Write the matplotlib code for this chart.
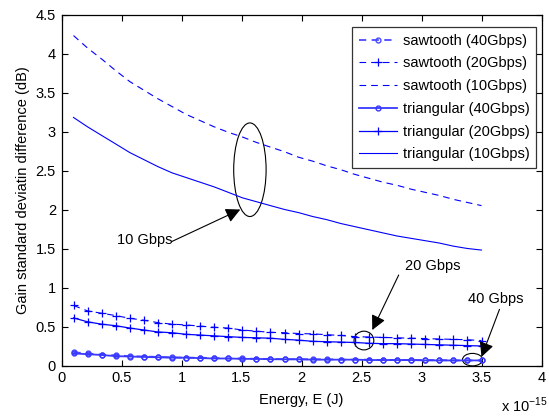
import matplotlib
matplotlib.use('Agg')
import matplotlib.pyplot as plt
from matplotlib.patches import Ellipse

plt.rcParams['font.family'] = ['Liberation Sans', 'DejaVu Sans']

# energy axis (x 1e-15 J)
energy = [0.100, 0.217, 0.334, 0.452, 0.569, 0.686, 0.803, 0.921, 1.038, 1.155,
          1.272, 1.390, 1.507, 1.624, 1.741, 1.859, 1.976, 2.093, 2.210, 2.328,
          2.445, 2.562, 2.679, 2.797, 2.914, 3.031, 3.148, 3.266, 3.383, 3.500]

saw_40 = [0.17, 0.155, 0.14, 0.13, 0.12, 0.115, 0.11, 0.105, 0.10, 0.10,
          0.095, 0.09, 0.09, 0.085, 0.085, 0.08, 0.08, 0.08, 0.08, 0.075,
          0.075, 0.075, 0.07, 0.07, 0.07, 0.07, 0.07, 0.065, 0.065, 0.065]
saw_20 = [0.77, 0.70, 0.67, 0.64, 0.605, 0.58, 0.55, 0.53, 0.52, 0.505,
          0.49, 0.48, 0.455, 0.44, 0.425, 0.42, 0.41, 0.405, 0.395, 0.385,
          0.37, 0.365, 0.36, 0.355, 0.35, 0.345, 0.34, 0.335, 0.33, 0.32]
saw_10 = [4.23, 4.07, 3.93, 3.78, 3.64, 3.53, 3.42, 3.32, 3.22, 3.14,
          3.06, 2.99, 2.93, 2.86, 2.80, 2.74, 2.67, 2.62, 2.56, 2.51,
          2.45, 2.40, 2.35, 2.31, 2.26, 2.22, 2.18, 2.13, 2.09, 2.05]
tri_40 = [0.155, 0.145, 0.135, 0.12, 0.115, 0.11, 0.105, 0.10, 0.10, 0.095,
          0.09, 0.09, 0.085, 0.085, 0.08, 0.08, 0.08, 0.075, 0.075, 0.075,
          0.075, 0.07, 0.07, 0.07, 0.07, 0.065, 0.065, 0.065, 0.065, 0.065]
tri_20 = [0.61, 0.56, 0.53, 0.51, 0.48, 0.455, 0.43, 0.42, 0.40, 0.39,
          0.38, 0.37, 0.36, 0.355, 0.35, 0.335, 0.325, 0.31, 0.305, 0.30,
          0.295, 0.285, 0.28, 0.28, 0.275, 0.27, 0.265, 0.26, 0.255, 0.25]
tri_10 = [3.18, 3.06, 2.95, 2.84, 2.73, 2.64, 2.55, 2.47, 2.41, 2.35,
          2.29, 2.22, 2.15, 2.10, 2.05, 2.00, 1.96, 1.91, 1.87, 1.82,
          1.78, 1.74, 1.70, 1.66, 1.63, 1.60, 1.57, 1.53, 1.50, 1.48]

fig = plt.figure(figsize=(5.49, 4.18), dpi=100)
ax = fig.add_axes([61.5 / 549, 1 - 365.5 / 418, 480 / 549, 351 / 418])

dash = (6, 4.5)
ax.plot(energy, saw_40, color='#4a4aff', lw=1.3, dashes=(4, 3), marker='o', ms=3.5,
        mfc='none', mew=1, label='sawtooth (40Gbps)')
ax.plot(energy, saw_20, color='blue', lw=0.8, dashes=dash, marker='+', ms=6,
        mew=0.9, label='sawtooth (20Gbps)')
ax.plot(energy, saw_10, color='blue', lw=0.8, dashes=dash, label='sawtooth (10Gbps)')
ax.plot(energy, tri_40, color='#3838ff', lw=1.3, marker='o', ms=3.5,
        mfc='none', mew=1, label='triangular (40Gbps)')
ax.plot(energy, tri_20, color='blue', lw=0.9, marker='+', ms=6, mew=0.9,
        label='triangular (20Gbps)')
ax.plot(energy, tri_10, color='blue', lw=0.8, label='triangular (10Gbps)')

ax.set_xlim(0, 4)
ax.set_ylim(0, 4.5)
ax.set_xticks([0, 0.5, 1, 1.5, 2, 2.5, 3, 3.5, 4])
ax.set_xticklabels(['0', '0.5', '1', '1.5', '2', '2.5', '3', '3.5', '4'])
ax.set_yticks([0, 0.5, 1, 1.5, 2, 2.5, 3, 3.5, 4, 4.5])
ax.set_yticklabels(['0', '0.5', '1', '1.5', '2', '2.5', '3', '3.5', '4', '4.5'])
ax.tick_params(direction='in', top=True, right=True, length=4, labelsize=10.5, pad=4)
for s in ax.spines.values():
    s.set_linewidth(0.9)

ax.set_xlabel('Energy, E (J)', fontsize=10.5, labelpad=6)
ax.set_ylabel('Gain standard deviatin difference (dB)', fontsize=10.5, labelpad=4)
fig.text(501 / 549, 1 - 412 / 418, r'x 10$^{\mathregular{-15}}$', fontsize=10.5,
         ha='left', va='baseline')

leg = ax.legend(loc='upper right', fontsize=10.5, frameon=True, fancybox=False,
                edgecolor='black', handlelength=2.6, labelspacing=0.6,
                borderpad=0.45, handletextpad=0.4, borderaxespad=0,
                bbox_to_anchor=(0.9885, 0.964))
leg.get_frame().set_linewidth(0.9)

# annotations
ax.add_patch(Ellipse((1.57, 2.51), 0.27, 1.2, fill=False, ec='black', lw=0.8))
ax.add_patch(Ellipse((2.52, 0.32), 0.165, 0.24, fill=False, ec='black', lw=0.8))
ax.add_patch(Ellipse((3.425, 0.075), 0.167, 0.16, fill=False, ec='black', lw=0.8,
                     clip_on=False))

arrow = dict(arrowstyle='-|>', color='black', lw=0.8, mutation_scale=22,
             shrinkA=0, shrinkB=0)
ax.annotate('', xy=(1.49, 2.0), xytext=(0.92, 1.59), arrowprops=arrow)
ax.annotate('', xy=(2.59, 0.455), xytext=(2.81, 1.16), arrowprops=arrow)
ax.annotate('', xy=(3.5, 0.11), xytext=(3.65, 0.72), arrowprops=arrow)
ax.text(0.69, 1.61, '10 Gbps', fontsize=10.5, ha='center', va='center')
ax.text(3.09, 1.28, '20 Gbps', fontsize=10.5, ha='center', va='center')
ax.text(3.62, 0.85, '40 Gbps', fontsize=10.5, ha='center', va='center')

fig.savefig('out.png', dpi=100)
